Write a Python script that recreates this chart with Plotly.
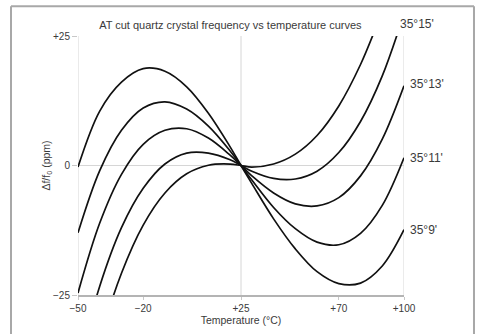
import plotly.graph_objects as go

# Temperature samples (°C)
temps = [-50, -40, -30, -20, -10, 0, 10, 20, 25, 30, 40, 50, 60, 70, 80, 90, 100]

# Δf/f0 (ppm), one list per cut-angle curve
curve_a = [-0.3, 10.5, 16.1, 18.7, 18.2, 15.2, 10.1, 3.6, 0, -3.5, -10.3, -16.1, -20.5, -22.8, -22.7, -19.4, -12.4]
curve_b = [-13.0, -1.0, 6.8, 11.1, 12.3, 10.9, 7.6, 2.8, 0, -2.8, -8.1, -12.2, -14.8, -15.3, -13.1, -7.7, 1.5]
curve_c = [-24.6, -11.1, -1.7, 4.1, 6.8, 7.1, 5.3, 2.0, 0, -2.0, -5.3, -7.4, -7.8, -6.2, -2.0, 5.1, 15.4]
curve_d = [-38.7, -23.3, -12.0, -4.4, 0.3, 2.4, 2.4, 1.1, 0, -1.1, -2.5, -2.6, -1.1, 2.5, 8.5, 17.3, 29.3]
curve_e = [-50.7, -33.7, -20.8, -11.5, -5.3, -1.6, 0.05, 0.27, 0, -0.3, 0.3, 2.2, 5.8, 11.5, 19.5, 29.7, 40.0]

curves = [curve_a, curve_b, curve_c, curve_d, curve_e]

# Tick labels
x_tickvals = [-50, -20, 25, 70, 100]
x_ticktext = ["\u221250", "\u221220", "+25", "+70", "+100"]
y_tickvals = [-25, 0, 25]
y_ticktext = ["\u221225", "0", "+25"]
grid_x = [-50, 25, 100]

# Angle labels: (text, y value at right edge)
angle_labels = ["35\u00b013'", "35\u00b011'", "35\u00b09'"]
angle_label_y = [15.7, 1.5, -12.4]
top_label = "35\u00b015'"

fig = go.Figure()
for ys in curves:
    fig.add_trace(go.Scatter(
        x=temps, y=ys, mode="lines",
        line=dict(color="#111111", width=1.7, shape="spline", smoothing=1.0),
        showlegend=False, hoverinfo="skip"))

grid_col = "#d6d6d6"
for gx in grid_x:
    fig.add_shape(type="line", xref="x", yref="paper", x0=gx, x1=gx, y0=0, y1=1,
                  line=dict(color=grid_col, width=1), layer="below")

# Outer frame (left, top, right edges)
frame_col = "#a8a8a8"
fx0, fx1, fy0, fy1 = -0.2055, 1.2147, -0.2, 1.115
fig.add_shape(type="line", xref="paper", yref="paper", x0=fx0, x1=fx0, y0=fy0, y1=fy1,
              line=dict(color=frame_col, width=2))
fig.add_shape(type="line", xref="paper", yref="paper", x0=fx0, x1=fx1, y0=fy1, y1=fy1,
              line=dict(color=frame_col, width=2))
fig.add_shape(type="line", xref="paper", yref="paper", x0=fx1, x1=fx1, y0=fy0, y1=fy1,
              line=dict(color=frame_col, width=2))

font_family = "Liberation Sans, Arial, sans-serif"
txt_col = "#3a3a3a"

for t, yv in zip(angle_labels, angle_label_y):
    fig.add_annotation(x=100, y=yv, xref="x", yref="y", text=t, showarrow=False,
                       xanchor="left", xshift=4, font=dict(size=12, color=txt_col, family=font_family))
fig.add_annotation(x=97.3, y=1.045, xref="x", yref="paper", text=top_label, showarrow=False,
                   xanchor="left", yanchor="middle", font=dict(size=12, color=txt_col, family=font_family))

fig.update_layout(
    width=482, height=334, autosize=False,
    margin=dict(l=78, r=78, t=36, b=39, autoexpand=False),
    paper_bgcolor="white", plot_bgcolor="white",
    title=dict(text="AT cut quartz crystal frequency vs temperature curves",
               x=0.478, xanchor="center", y=0.925, yanchor="middle", automargin=False,
               font=dict(size=11, color=txt_col, family=font_family)),
    font=dict(family=font_family, color=txt_col, size=10),
)
fig.update_xaxes(range=[-50, 100], tickvals=x_tickvals, ticktext=x_ticktext,
                 showgrid=False, zeroline=False, automargin=False,
                 showline=True, linecolor="#b4b4b4", linewidth=2,
                 ticks="outside", ticklen=3, tickcolor="#c8c8c8",
                 tickfont=dict(size=10, color=txt_col),
                 title=dict(text="Temperature (\u00b0C)", font=dict(size=10.5, color=txt_col), standoff=2))
fig.update_yaxes(range=[-25, 25], tickvals=y_tickvals, ticktext=y_ticktext,
                 showgrid=True, gridcolor=grid_col, gridwidth=1, zeroline=False,
                 showline=False, automargin=False,
                 ticks="outside", ticklen=5, tickcolor="#c8c8c8",
                 tickfont=dict(size=10, color=txt_col),
                 title=dict(text="\u0394f/f<sub>0</sub> (ppm)", font=dict(size=10.5, color=txt_col), standoff=0))

fig.write_html("out.html",
               config={"displayModeBar": False},
               post_script="document.body.style.margin='0';document.body.style.overflow='hidden';")
